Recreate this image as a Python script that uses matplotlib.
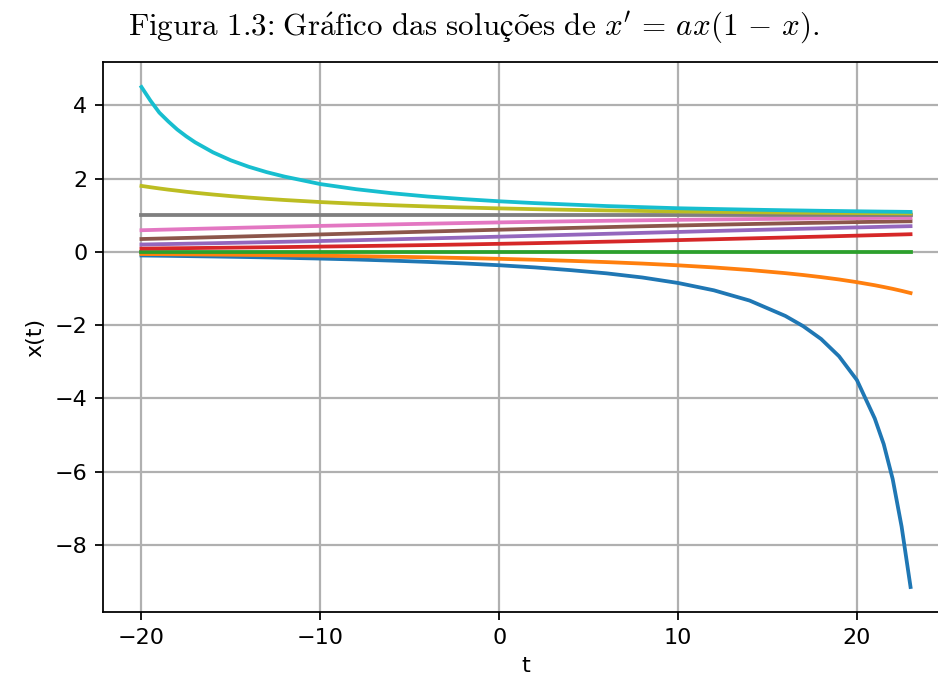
import matplotlib
matplotlib.use("Agg")
import matplotlib.pyplot as plt

# solutions of x' = a x (1 - x)
t = [-20, -19.5, -19, -18.5, -18, -17.5, -17, -16, -15, -14, -13, -12,
     -10, -8, -6, -4, -2, 0, 2, 4, 6, 8, 10, 12, 14, 16, 17, 18, 19, 20,
     21, 21.5, 22, 22.5, 23]

x_blue = [-0.10, -0.103, -0.106, -0.109, -0.113, -0.116, -0.12, -0.127, -0.135, -0.143, -0.152, -0.162,
          -0.184, -0.209, -0.24, -0.275, -0.316, -0.366, -0.425, -0.5, -0.587, -0.70, -0.85, -1.05,
          -1.33, -1.75, -2.03, -2.38, -2.85, -3.50, -4.55, -5.25, -6.2, -7.5, -9.15]
x_orange = [-0.06, -0.062, -0.063, -0.065, -0.067, -0.069, -0.071, -0.075, -0.079, -0.084, -0.089, -0.094,
            -0.105, -0.118, -0.133, -0.149, -0.169, -0.191, -0.216, -0.246, -0.28, -0.32, -0.368, -0.426,
            -0.496, -0.582, -0.633, -0.69, -0.754, -0.828, -0.912, -0.96, -1.01, -1.065, -1.125]
x_green = [0.0] * 35
x_red = [0.09, 0.092, 0.094, 0.097, 0.099, 0.101, 0.104, 0.109, 0.114, 0.119, 0.125, 0.13,
         0.143, 0.156, 0.17, 0.185, 0.201, 0.219, 0.237, 0.256, 0.277, 0.298, 0.32, 0.343,
         0.367, 0.391, 0.404, 0.416, 0.429, 0.442, 0.455, 0.461, 0.468, 0.474, 0.481]
x_purple = [0.2, 0.204, 0.209, 0.213, 0.217, 0.222, 0.226, 0.235, 0.245, 0.255, 0.265, 0.275,
            0.296, 0.318, 0.341, 0.365, 0.389, 0.414, 0.44, 0.466, 0.492, 0.518, 0.543, 0.569,
            0.594, 0.619, 0.631, 0.643, 0.655, 0.667, 0.678, 0.684, 0.69, 0.695, 0.701]
x_brown = [0.35, 0.356, 0.362, 0.368, 0.374, 0.38, 0.386, 0.399, 0.411, 0.424, 0.437, 0.449,
           0.475, 0.501, 0.527, 0.553, 0.579, 0.604, 0.628, 0.652, 0.675, 0.698, 0.719, 0.74,
           0.759, 0.778, 0.787, 0.795, 0.804, 0.812, 0.82, 0.823, 0.827, 0.831, 0.834]
x_pink = [0.59, 0.596, 0.603, 0.609, 0.615, 0.621, 0.627, 0.639, 0.651, 0.663, 0.674, 0.686,
          0.708, 0.729, 0.749, 0.768, 0.786, 0.803, 0.819, 0.834, 0.848, 0.861, 0.873, 0.884,
          0.894, 0.903, 0.908, 0.912, 0.916, 0.92, 0.924, 0.926, 0.928, 0.929, 0.931]
x_gray = [1.0] * 35
x_olive = [1.80, 1.764, 1.73, 1.698, 1.67, 1.64, 1.613, 1.565, 1.521, 1.482, 1.447, 1.415,
           1.359, 1.313, 1.273, 1.24, 1.211, 1.186, 1.165, 1.146, 1.13, 1.116, 1.103, 1.092,
           1.082, 1.073, 1.069, 1.066, 1.062, 1.059, 1.056, 1.054, 1.053, 1.051, 1.05]
x_cyan = [4.50, 4.13, 3.80, 3.56, 3.34, 3.155, 2.99, 2.716, 2.498, 2.322, 2.176, 2.054,
          1.85, 1.71, 1.60, 1.51, 1.44, 1.38, 1.33, 1.29, 1.25, 1.22, 1.19, 1.17,
          1.152, 1.135, 1.128, 1.12, 1.114, 1.107, 1.101, 1.098, 1.096, 1.093, 1.09]

series = [x_blue, x_orange, x_green, x_red, x_purple,
          x_brown, x_pink, x_gray, x_olive, x_cyan]

plt.rcParams['mathtext.fontset'] = 'cm'

dpi = 160
fig = plt.figure(figsize=(938 / dpi, 689 / dpi), dpi=dpi)
ax = fig.add_axes([103 / 938, 1 - 612 / 689, 846 / 938, 550 / 689])

for xs in series:
    ax.plot(t, xs, lw=1.7)

ax.grid(True, lw=1.0)
ax.set_xlabel('t')
ax.set_ylabel('x(t)')

title = (r"$\mathrm{Figura\ 1.3}$" + ": "
         + r"$\mathrm{Gr\acute{a}fico\ das\ solu}$" + "ç"
         + r"$\mathrm{\tilde{o}es\ de}\ x' \,=\, ax(1 \,-\, x).$")
fig.text(0.505, 1 - 28 / 689, title, ha='center', va='center',
         fontsize=14, family='STIXGeneral')

fig.savefig('out.png', dpi=dpi)
